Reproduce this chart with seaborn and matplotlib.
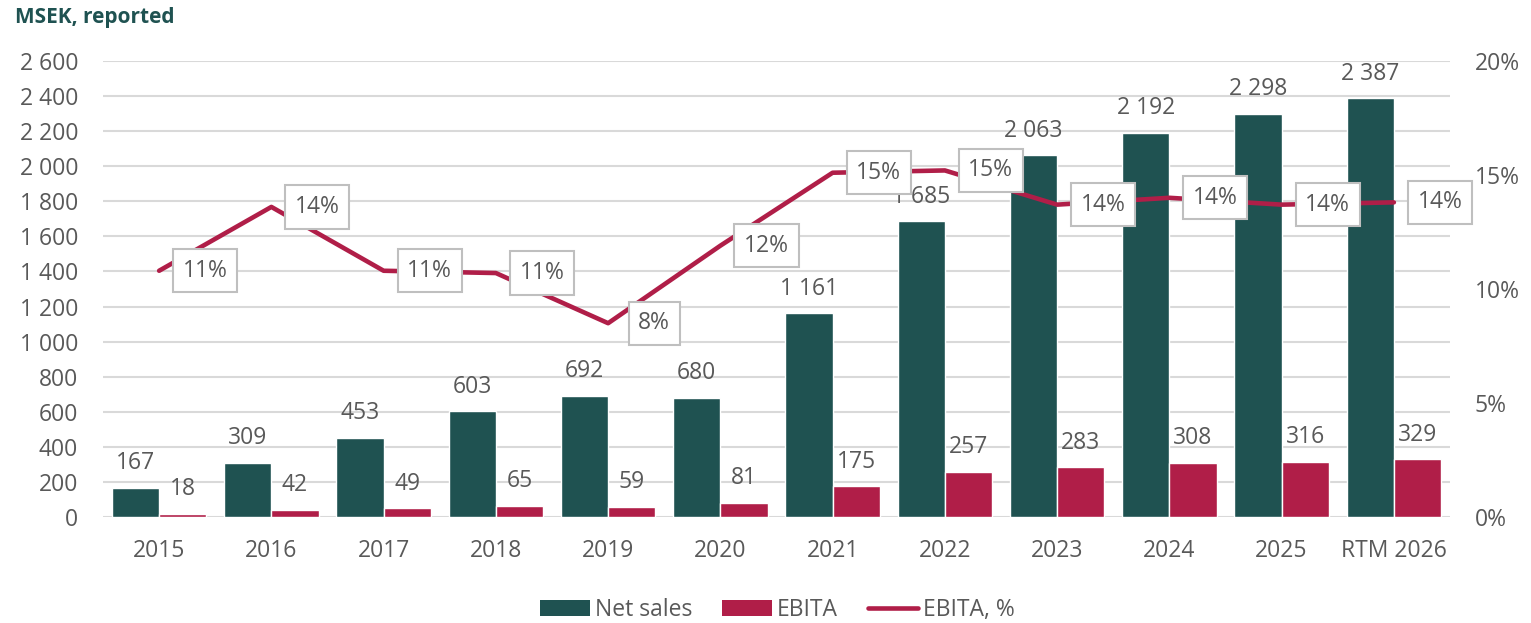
import matplotlib
matplotlib.use("Agg")
import matplotlib.pyplot as plt
import seaborn as sns
import pandas as pd
from matplotlib.patches import Patch
from matplotlib.lines import Line2D
from matplotlib.ticker import FuncFormatter, MultipleLocator

categories = ["2015", "2016", "2017", "2018", "2019", "2020", "2021", "2022",
              "2023", "2024", "2025", "RTM 2026"]
net_sales = [167, 309, 453, 603, 692, 680, 1161, 1685, 2063, 2192, 2298, 2387]
ebita = [18, 42, 49, 65, 59, 81, 175, 257, 283, 308, 316, 329]
ebita_pct = [10.8, 13.6, 10.8, 10.7, 8.5, 11.9, 15.1, 15.2, 13.7, 14.0, 13.7, 13.8]
pct_labels = ["11%", "14%", "11%", "11%", "8%", "12%", "15%", "15%", "14%", "14%", "14%", "14%"]

GREEN = "#1f5251"
RED = "#b01e48"
TXT = "#595959"
GRID = "#d9d9d9"

sns.set_theme(style="white")
plt.rcParams["font.family"] = ["Open Sans", "DejaVu Sans"]

df = pd.DataFrame({
    "cat": categories * 2,
    "value": net_sales + ebita,
    "series": ["Net sales"] * len(categories) + ["EBITA"] * len(categories),
})

fig = plt.figure(figsize=(15.31, 6.23), dpi=100)
ax = fig.add_axes([103 / 1531, 1 - 517 / 623, (1450 - 103) / 1531, (517 - 61) / 623])

sns.barplot(data=df, x="cat", y="value", hue="series", order=categories,
            hue_order=["Net sales", "EBITA"], palette=[GREEN, RED],
            width=0.84, gap=0, saturation=1, ax=ax, legend=False)

fs = 16.5
fmt = lambda v, p=None: f"{int(round(v)):,}".replace(",", " ")
for cont in ax.containers:
    ax.bar_label(cont, labels=[fmt(v) for v in cont.datavalues], padding=9,
                 fontsize=fs, color=TXT)

ax.set_xlim(-0.5, len(categories) - 0.5)
ax.set_ylim(0, 2600)
ax.yaxis.set_major_locator(MultipleLocator(200))
ax.yaxis.set_major_formatter(FuncFormatter(fmt))
ax.grid(axis="y", color=GRID, linewidth=1.5)
ax.set_axisbelow(True)
for s in ax.spines.values():
    s.set_visible(False)
ax.tick_params(axis="both", length=0, labelsize=fs, colors=TXT)
ax.tick_params(axis="y", pad=18)
ax.tick_params(axis="x", pad=16)
ax.set_xlabel("")
ax.set_ylabel("")

ax2 = ax.twinx()
sns.lineplot(x=list(range(len(categories))), y=ebita_pct, ax=ax2, color=RED,
             linewidth=3.3, sort=False, solid_capstyle="round")
ax2.set_ylim(0, 20)
ax2.yaxis.set_major_locator(MultipleLocator(5))
ax2.yaxis.set_major_formatter(FuncFormatter(lambda v, p: f"{v:.0f}%"))
for s in ax2.spines.values():
    s.set_visible(False)
ax2.tick_params(axis="y", length=0, labelsize=fs, colors=TXT, pad=18)
ax2.set_ylabel("")

for i, (v, lab) in enumerate(zip(ebita_pct, pct_labels)):
    ax2.text(i + 0.41, v, lab, ha="center", va="center", fontsize=fs, color=TXT,
             bbox=dict(boxstyle="square,pad=0.42", facecolor="white",
                       edgecolor="#bfbfbf", linewidth=1.5), zorder=5)

fig.text(15 / 1531, 1 - 18 / 623, "MSEK, reported", fontsize=15, fontweight="bold",
         color="#1f5251", ha="left", va="center")

handles = [Patch(facecolor=GREEN, edgecolor="none"),
           Patch(facecolor=RED, edgecolor="none"),
           Line2D([0], [0], color=RED, linewidth=3.3, solid_capstyle="round")]
fig.legend(handles, ["Net sales", "EBITA", "EBITA, %"], loc="center",
           bbox_to_anchor=(777 / 1531, 1 - 610 / 623), ncol=3, frameon=False,
           fontsize=fs, labelcolor=TXT, handlelength=2.2, handleheight=0.7,
           handletextpad=0.2, columnspacing=1.3)

fig.savefig("out.png", dpi=100)
